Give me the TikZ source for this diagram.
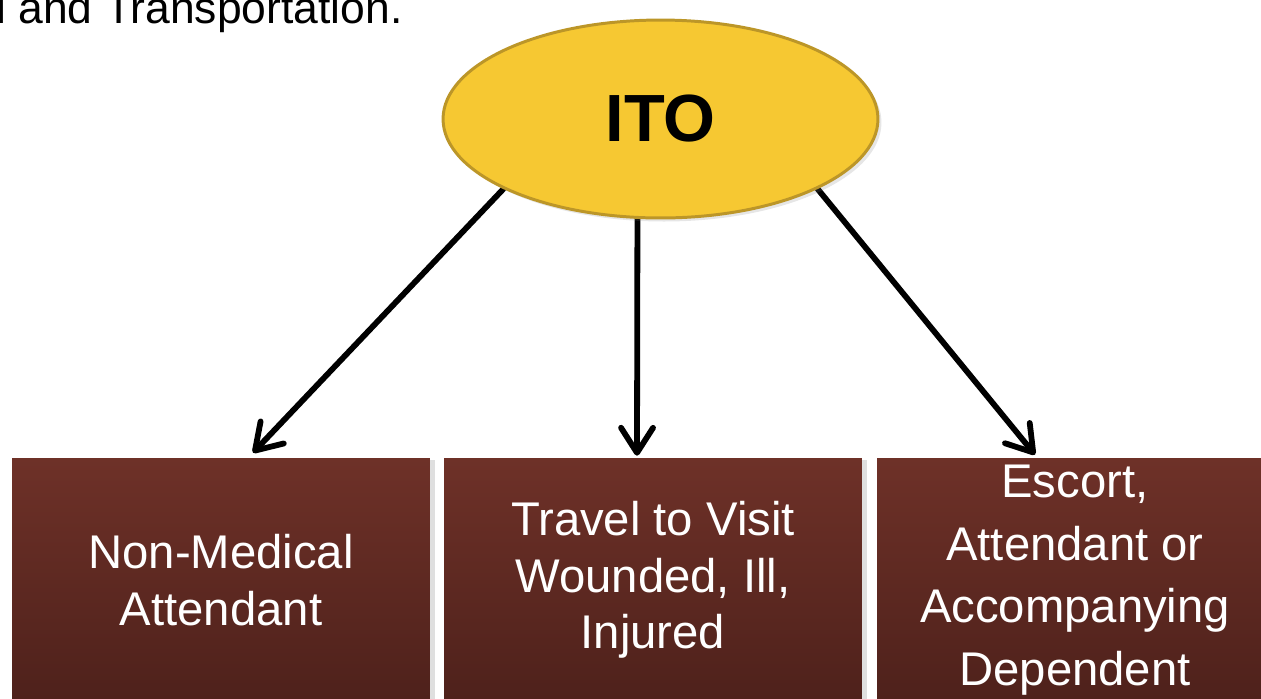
\documentclass[tikz,border=0pt]{standalone}
\usepackage{fontspec}
\setmainfont{Liberation Sans}
\usepackage{tikz}
\usetikzlibrary{positioning}
\usetikzlibrary{shapes,arrows.meta,backgrounds,shadows}
\definecolor{itogold}{HTML}{F6C832}
\definecolor{itoedge}{HTML}{BC9628}
\definecolor{boxtop}{HTML}{6E3128}
\definecolor{boxbot}{HTML}{4E211B}
\tikzstyle{line} = [draw, line width=3.3pt, line cap=round, -{Straight Barb[length=0.5cm,width=0.64cm,round]}]
\tikzstyle{oval} = [ellipse, draw=itoedge, line width=1.7pt, fill=itogold, inner sep=0pt, minimum width=8.7cm, minimum height=3.96cm, font=\fontsize{38}{44}\selectfont\bfseries, drop shadow={shadow xshift=2pt, shadow yshift=-2pt, opacity=.2}]
\tikzstyle{box} = [rectangle, minimum width=8.36cm, minimum height=4.88cm, top color=boxtop, bottom color=boxbot, text=white, align=center, font=\fontsize{26.9}{32.3}\selectfont, drop shadow={shadow xshift=3pt, shadow yshift=-1pt, opacity=.25}]

\begin{document}
\begin{tikzpicture}[x=0.02cm, y=-0.02cm]
	\useasboundingbox (0,0) rectangle (1261,698);
	\node[anchor=base west, inner sep=0pt, font=\fontsize{25.3}{30}\selectfont] (head) at (-4,23) {l and Transportation.};
	
	\node[oval] (ito) at (660.5,119) {ITO};
	
	\node[box] (nma) at (221,580) {Non-Medical\\Attendant};
	\node[box] (tvw) at (653,580) {Travel to Visit\\Wounded, Ill,\\Injured};
	\node[box, minimum width=7.92cm, font=\fontsize{26.9}{35.7}\selectfont] (ead) at (1075,580) {Escort,\\Attendant or\\Accompanying\\Dependent};
	
	\begin{scope}[on background layer]
		\draw[line] (ito.204) -- ([shift={(32,-5)}]nma.north);
		\draw[line] (ito.257) -- ([shift={(-16,-2)}]tvw.north);
		\draw[line] (ito.336) -- ([shift={(-40,-3)}]ead.north);
	\end{scope}
\end{tikzpicture}
\end{document}
